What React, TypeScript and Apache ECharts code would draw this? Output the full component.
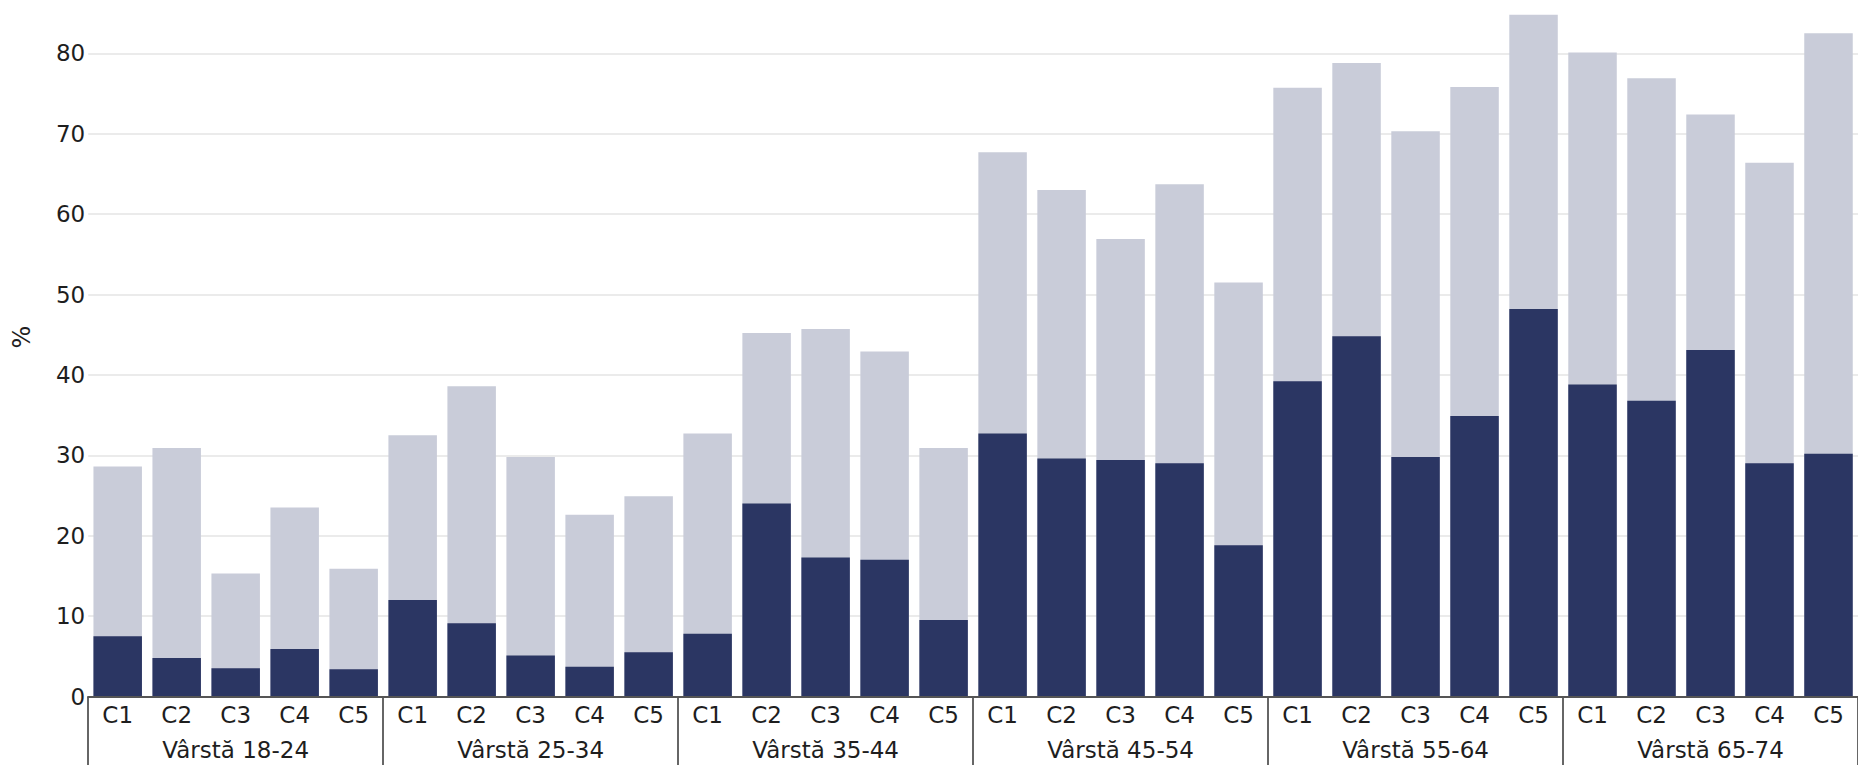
import React, { useEffect, useRef } from "react";
import * as echarts from "echarts";

const groups = ["Vârstă 18-24", "Vârstă 25-34", "Vârstă 35-44", "Vârstă 45-54", "Vârstă 55-64", "Vârstă 65-74"];
const classes = ["C1", "C2", "C3", "C4", "C5"];
const totals = [
  28.6, 30.9, 15.3, 23.5, 15.9,
  32.5, 38.6, 29.8, 22.6, 24.9,
  32.7, 45.2, 45.7, 42.9, 30.9,
  67.7, 63.0, 56.9, 63.7, 51.5,
  75.7, 78.8, 70.3, 75.8, 84.8,
  80.1, 76.9, 72.4, 66.4, 82.5,
];
const darks = [
  7.5, 4.8, 3.5, 5.9, 3.4,
  12.0, 9.1, 5.1, 3.7, 5.5,
  7.8, 24.0, 17.3, 17.0, 9.5,
  32.7, 29.6, 29.4, 29.0, 18.8,
  39.2, 44.8, 29.8, 34.9, 48.2,
  38.8, 36.8, 43.1, 29.0, 30.2,
];
const yMax = 80;
const yStep = 10;

const FONT = "DejaVu Sans";
const TEXT = "#1e1e1e";
const FS = 23;

export default function App() {
  const ref = useRef<HTMLDivElement>(null);
  useEffect(() => {
    document.body.style.margin = "0";
    const chart = echarts.init(ref.current!, null, { renderer: "svg" });
    const cats: string[] = [];
    groups.forEach(() => classes.forEach((c) => cats.push(c)));
    chart.setOption({
      animation: false,
      backgroundColor: "#ffffff",
      textStyle: { fontFamily: FONT },
      grid: { left: 88.2, right: -1.4, top: 53.3, bottom: 68.5, containLabel: false },
      xAxis: [
        {
          type: "category",
          data: cats,
          position: "bottom",
          axisLine: { show: true, lineStyle: { color: "#555555", width: 2 } },
          axisTick: { show: false },
          axisLabel: { color: TEXT, fontSize: FS, fontFamily: FONT, margin: 7, interval: 0 },
          z: 10,
        },
        {
          type: "category",
          data: groups,
          position: "bottom",
          offset: 0,
          axisLine: { show: false },
          axisTick: { show: true, length: 70, lineStyle: { color: "#666666", width: 2 } },
          axisLabel: { color: TEXT, fontSize: FS, fontFamily: FONT, margin: 42, interval: 0 },
        },
      ],
      yAxis: {
        type: "value",
        min: 0,
        max: yMax,
        interval: yStep,
        axisLine: { show: false },
        axisTick: { show: false },
        axisLabel: { color: TEXT, fontSize: FS, fontFamily: FONT, margin: 3 },
        splitLine: { show: true, lineStyle: { color: "#ebebeb", width: 2 } },
      },
      graphic: [
        {
          type: "text",
          x: 22,
          y: 337,
          rotation: Math.PI / 2,
          style: { text: "%", fill: TEXT, fontSize: 24, fontFamily: FONT, align: "center", verticalAlign: "middle" },
        },
      ],
      series: [
        {
          name: "Total",
          type: "bar",
          xAxisIndex: 0,
          data: totals,
          barGap: "-100%",
          barCategoryGap: "17.8%",
          clip: false,
          itemStyle: { color: "#c9ccd9" },
          z: 2,
        },
        {
          name: "Parte",
          type: "bar",
          xAxisIndex: 0,
          data: darks,
          barGap: "-100%",
          barCategoryGap: "17.8%",
          clip: false,
          itemStyle: { color: "#2b3663" },
          z: 3,
        },
      ],
    });
    return () => chart.dispose();
  }, []);
  return <div ref={ref} style={{ width: 1858, height: 765 }} />;
}
